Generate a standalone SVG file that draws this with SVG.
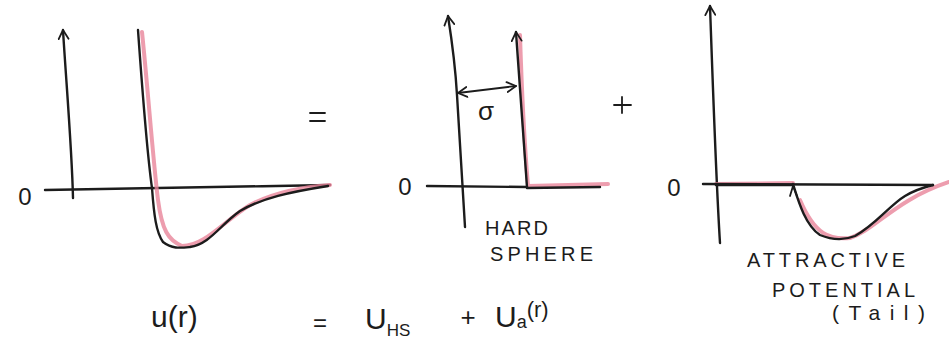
<svg xmlns="http://www.w3.org/2000/svg" width="949" height="342" viewBox="0 0 949 342">
<defs>
<style>
.ink{fill:none;stroke:#1c1c1c;stroke-width:2.4;stroke-linecap:round;stroke-linejoin:round}
.thin{fill:none;stroke:#1c1c1c;stroke-width:1.8;stroke-linecap:round;stroke-linejoin:round}
.pink{fill:none;stroke:#e8849a;stroke-width:4;stroke-linecap:round;stroke-linejoin:round;opacity:0.8}
.t{font-family:"Liberation Sans",Arial,sans-serif;fill:#1c1c1c}
.lbl{font-size:20px}
</style>
<marker id="open" viewBox="0 0 12 12" refX="10" refY="6" markerWidth="12" markerHeight="12" markerUnits="userSpaceOnUse" orient="auto-start-reverse">
<path d="M1,1 L10,6 L1,11" fill="none" stroke="#1c1c1c" stroke-width="1.8" stroke-linecap="round" stroke-linejoin="round"/>
</marker>
</defs>
<rect width="949" height="342" fill="#ffffff"/>

<g id="panel-full">
<path class="ink" d="M73,198 C72,150 66,80 63,30" marker-end="url(#open)"/>
<path class="ink" d="M45,190 C120,188 230,187 330,185"/>
<path class="pink" d="M142,32 C148,90 153,160 158,200 C162,230 168,240 182,246 C205,246 225,220 250,205 C275,192 300,187 330,185"/>
<path class="ink" d="M138,30 C143,100 148,160 152,188 C154,215 156,232 163,242 C172,249 180,248 190,247 C210,244 220,225 240,211 C262,198 290,192 328,186"/>
<text class="t" x="25" y="205" font-size="24" text-anchor="middle">0</text>
</g>

<g id="equals-top"><path class="thin" d="M310,113 L325,113 M310,121 L325,121"/></g>

<g id="panel-hs">
<path class="ink" d="M465,227 C463,190 460,150 457,95 C455,60 451,35 448,16" marker-end="url(#open)"/>
<path class="ink" d="M427,186 L527,187"/>
<path class="pink" d="M520,35 C522,100 525,150 528,186 L608,184"/>
<path class="ink" d="M527,187 C524,150 520,90 516,32" marker-end="url(#open)"/>
<path class="ink" d="M527,188 L600,187" stroke-width="3.4"/>
<path class="thin" d="M458,93 L516,86" marker-start="url(#open)" marker-end="url(#open)"/>
<text class="t" x="486" y="120" font-size="26" text-anchor="middle">σ</text>
<text class="t" x="405" y="195" font-size="24" text-anchor="middle">0</text>
<text class="t lbl" x="485" y="235" textLength="63" lengthAdjust="spacing">HARD</text>
<text class="t lbl" x="490" y="261" textLength="103" lengthAdjust="spacing">SPHERE</text>
</g>

<g id="plus-top"><path class="thin" d="M614,105 L631,105 M622,97 L622,113"/></g>

<g id="panel-attr">
<path class="ink" d="M720,243 C716,180 713,90 710,6" marker-end="url(#open)"/>
<path class="pink" d="M716,184 L793,183 M800,200 C815,235 830,240 850,238 C875,230 895,200 949,182"/>
<path class="ink" d="M703,184 L933,185"/>
<path class="ink" d="M716,185 L793,185" stroke-width="3"/>
<path class="ink" d="M793,184 C798,200 805,225 820,235 C832,240 845,240 855,236 C875,225 890,205 905,196 C915,190 925,187 933,185"/>
<path class="thin" d="M790,196 L793,186 L797,196"/>
<text class="t" x="674" y="196" font-size="24" text-anchor="middle">0</text>
<text class="t lbl" x="747" y="267" textLength="158" lengthAdjust="spacing">ATTRACTIVE</text>
<text class="t lbl" x="772" y="297" textLength="143" lengthAdjust="spacing">POTENTIAL</text>
<text class="t" x="832" y="320" font-size="21" textLength="93" lengthAdjust="spacing">(Tail)</text>
</g>

<g id="equation">
<text class="t" x="151" y="327" font-size="30">u(r)</text>
<text class="t" x="320" y="331" font-size="24" text-anchor="middle">=</text>
<text class="t" x="365" y="329" font-size="30">U<tspan font-size="17" dy="7">HS</tspan></text>
<text class="t" x="468" y="326" font-size="26" text-anchor="middle">+</text>
<text class="t" x="495" y="327" font-size="30">U<tspan font-size="18" dy="1">a</tspan><tspan font-size="22" dy="-11">(r)</tspan></text>
</g>
</svg>
